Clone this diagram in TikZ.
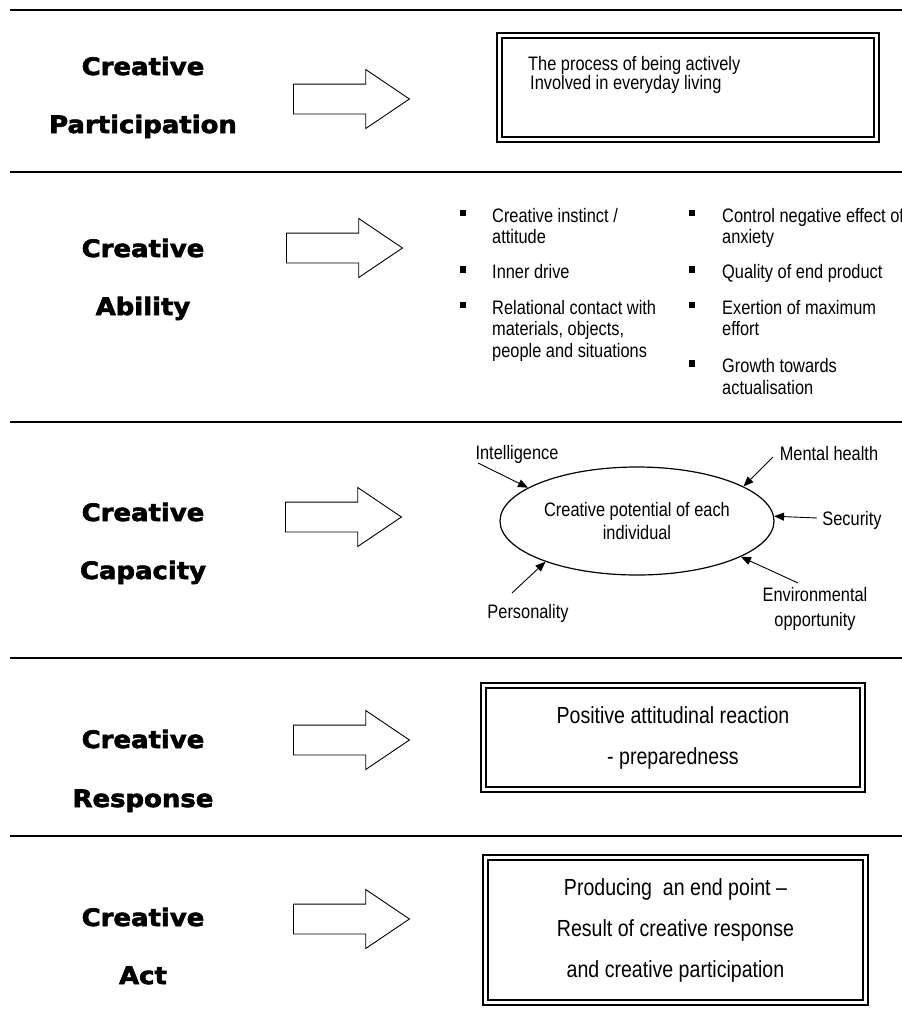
\documentclass[tikz,border=0pt]{standalone}
\usepackage{fontspec}
\setmainfont{Liberation Sans}[FakeStretch=0.84]
\newfontfamily\headfont{DejaVu Sans}[FakeStretch=1.08,FakeBold=2.5]
\usepackage{tikz}
\usetikzlibrary{arrows.meta,shapes}
\tikzstyle{heading}=[font=\headfont\bfseries\fontsize{24}{24}\selectfont,anchor=base,inner sep=0pt]
\tikzstyle{itemtext}=[font=\fontsize{19.5}{21}\selectfont,anchor=base west,inner sep=0pt]
\tikzstyle{bullet}=[rectangle,fill=black,minimum size=6.5pt,inner sep=0pt]
\tikzstyle{blockarrow}=[single arrow,draw,line width=0.9pt,minimum height=116pt,inner sep=14.5pt,single arrow head extend=14.5pt,single arrow tip angle=68,anchor=tail]
\tikzstyle{frame}=[rectangle,draw,line width=2pt,double,double distance=2.2pt,inner sep=0pt]
\tikzstyle{boxtext}=[font=\fontsize{23.3}{41}\selectfont,align=center]
\tikzstyle{factor}=[font=\fontsize{19.5}{25}\selectfont,inner sep=0pt,align=center]
\tikzstyle{feed}=[-{Triangle[length=10pt,width=8pt]},line width=0.9pt]
\tikzstyle{rule}=[line width=1.3pt]

\begin{document}
\begin{tikzpicture}[x=1pt,y=-1pt]
        \useasboundingbox (0,0) rectangle (902,1021);

        \draw [rule,line width=2pt] (10,10) -- (902,10);
        \draw [rule] (10,172) -- (902,172);
        \draw [rule] (10,422) -- (902,422);
        \draw [rule] (10,658) -- (902,658);
        \draw [rule] (10,836) -- (902,836);

        \node at (143,75)  [heading] (part1) {Creative};
        \node at (143,133) [heading] (part2) {Participation};
        \node at (143,257) [heading] (abil1) {Creative};
        \node at (143,315) [heading] (abil2) {Ability};
        \node at (143,521) [heading] (capa1) {Creative};
        \node at (143,579) [heading] (capa2) {Capacity};
        \node at (143,748) [heading] (resp1) {Creative};
        \node at (143,807) [heading] (resp2) {Response};
        \node at (143,926) [heading] (act1)  {Creative};
        \node at (143,984) [heading] (act2)  {Act};

        \node at (293,99)  [blockarrow] (arrpart) {};
        \node at (286,248) [blockarrow] (arrabil) {};
        \node at (285,517) [blockarrow] (arrcapa) {};
        \node at (293,740) [blockarrow] (arrresp) {};
        \node at (293,919) [blockarrow] (arract)  {};

        \node at (688,87.5) [frame,minimum width=377pt,minimum height=104pt] (partbox) {};
        \node at (528,70)   [itemtext] (proc1) {The process of being actively};
        \node at (530,89)   [itemtext] (proc2) {Involved in everyday living};

        \node at (463,213)   [bullet] (sqa) {};
        \node at (463,269.5) [bullet] (sqb) {};
        \node at (463,305)   [bullet] (sqc) {};
        \node at (692,213)   [bullet] (sqd) {};
        \node at (692,269.5) [bullet] (sqe) {};
        \node at (692,305)   [bullet] (sqf) {};
        \node at (692,363.5) [bullet] (sqg) {};

        \node at (492,222)   [itemtext] (insta) {Creative instinct /};
        \node at (492,243.5) [itemtext] (instb) {attitude};
        \node at (492,278.5) [itemtext] (drive) {Inner drive};
        \node at (492,314)   [itemtext] (rela)  {Relational contact with};
        \node at (492,335.5) [itemtext] (relb)  {materials, objects,};
        \node at (492,357)   [itemtext] (relc)  {people and situations};
        \node at (722,222)   [itemtext] (anxa)  {Control negative effect of};
        \node at (722,243.5) [itemtext] (anxb)  {anxiety};
        \node at (722,278.5) [itemtext] (qual)  {Quality of end product};
        \node at (722,314)   [itemtext] (exea)  {Exertion of maximum};
        \node at (722,335.5) [itemtext] (exeb)  {effort};
        \node at (722,372.5) [itemtext] (grwa)  {Growth towards};
        \node at (722,394)   [itemtext] (grwb)  {actualisation};

        \node at (637,521) [ellipse,draw,line width=1.2pt,minimum width=274pt,minimum height=108pt,font=\fontsize{19.5}{23}\selectfont,align=center,inner sep=0pt] (potential) {Creative potential of each\\individual};
        \node at (517,452)   [factor,text height=14pt,text depth=0pt] (intel) {Intelligence};
        \node at (829,453)   [factor,text height=14pt,text depth=0pt] (mental) {Mental health};
        \node at (852,518)   [factor,text height=14pt,text depth=0pt] (secur) {Security};
        \node at (815,608.5) [factor] (envir) {Environmental\\opportunity};
        \node at (528,611)   [factor,text height=14pt,text depth=0pt] (person) {Personality};

        \coordinate (intelS)  at (478,463);
        \coordinate (mentalS) at (773,457);
        \coordinate (securS)  at (817,518);
        \coordinate (envirS)  at (798,583);
        \coordinate (personS) at (512,593);

        \draw [feed] (intelS)  -- (potential.163);
        \draw [feed] (mentalS) -- (potential.18);
        \draw [feed] (securS)  -- (potential.2);
        \draw [feed] (envirS)  -- (potential.-19);
        \draw [feed] (personS) -- (potential.204);

        \node at (673,737.5) [frame,boxtext,minimum width=379pt,minimum height=104pt] (respbox) {Positive attitudinal reaction\\- preparedness};
        \node at (675.5,930) [frame,boxtext,minimum width=380pt,minimum height=145pt] (actbox) {Producing\ \ an end point –\\Result of creative response\\and creative participation};
      \end{tikzpicture}
\end{document}
